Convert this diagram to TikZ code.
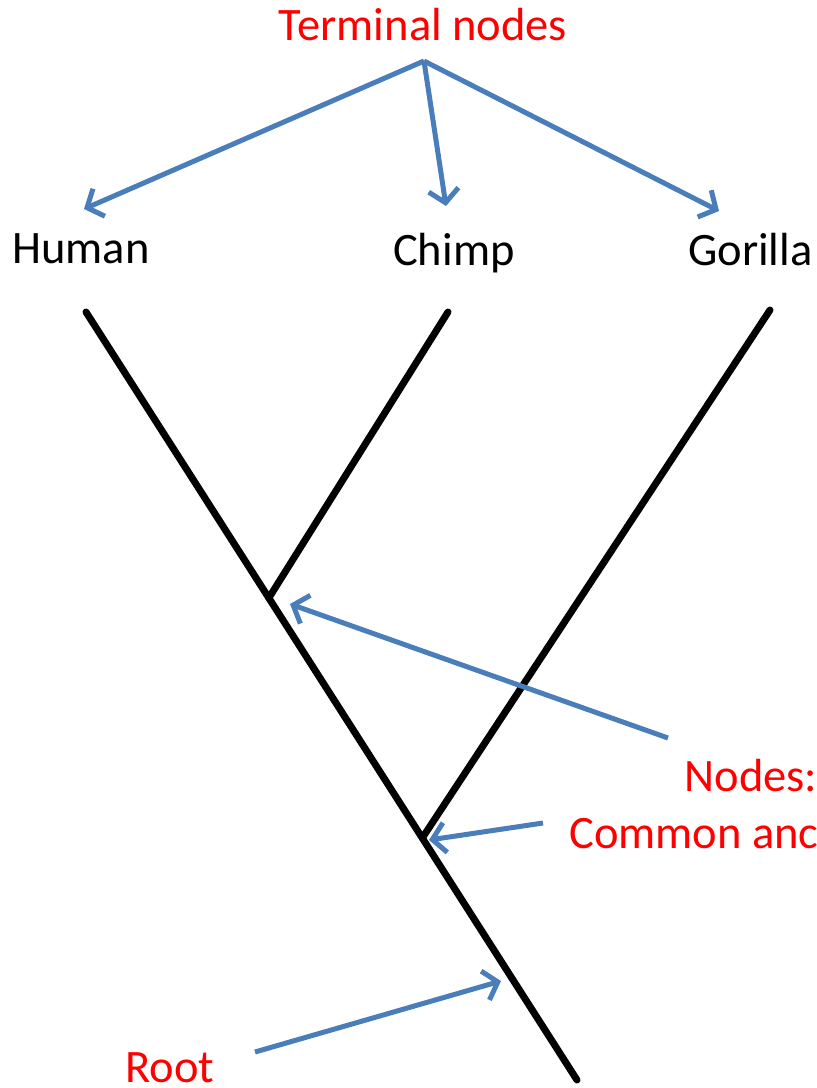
\documentclass[tikz,border=0pt]{standalone}
\usepackage{fontspec}
\setmainfont{Carlito}
\usetikzlibrary{arrows.meta}
\definecolor{pointerblue}{RGB}{74,126,187}
\definecolor{calloutred}{RGB}{255,0,0}
\begin{document}
\begin{tikzpicture}[x=1pt,y=-1pt,
  branch/.style={line width=7pt,line cap=round},
  pointer/.style={draw=pointerblue,line width=5pt,
    -{Straight Barb[length=13pt,width=30pt]}},
  taxon/.style={font=\fontsize{46.5}{56}\selectfont,inner sep=0pt,anchor=base west},
  callout/.style={font=\fontsize{46.5}{56}\selectfont,inner sep=0pt,text=calloutred}]
\useasboundingbox (0,0) rectangle (817,1088);
\clip (0,0) rectangle (817,1088);

% tree: leaves, internal nodes and root end
\coordinate (hleaf) at (86,312);
\coordinate (cleaf) at (448,312);
\coordinate (gleaf) at (770,310);
\coordinate (rootend) at (577,1080);
\coordinate (j1) at (268.8,598);
\coordinate (j2) at (422.3,838);
\draw[branch] (hleaf) -- (rootend);
\draw[branch] (cleaf) -- (j1);
\draw[branch] (gleaf) -- (j2);

% taxon names
\node[taxon] (human) at (12,263) {Human};
\node[taxon] (chimp) at (393,265) {Chimp};
\node[taxon] (gorilla) at (688,265) {Gorilla};

% callout labels
\node[callout,anchor=base] (terminal) at (423,40) {Terminal nodes};
\node[callout,anchor=base] (nodes) at (751,791) {Nodes:};
\node[callout,anchor=base] (common) at (751,848) {Common ancestors};
\node[callout,anchor=base west] (root) at (125,1082) {Root};

% pointer arrows
\coordinate (fork) at (424,61);
\coordinate (htip) at (84,209);
\coordinate (ctip) at (446,206);
\coordinate (gtip) at (719,211);
\coordinate (n1start) at (668,738);
\coordinate (n1tip) at (290,604);
\coordinate (n2start) at (543,823);
\coordinate (n2tip) at (429,840);
\coordinate (rstart) at (255,1052);
\coordinate (rtip) at (501,981);
\draw[pointer] (fork) -- (htip);
\draw[pointer] (fork) -- (ctip);
\draw[pointer] (fork) -- (gtip);
\draw[pointer] (n1start) -- (n1tip);
\draw[pointer] (n2start) -- (n2tip);
\draw[pointer] (rstart) -- (rtip);
\end{tikzpicture}
\end{document}
